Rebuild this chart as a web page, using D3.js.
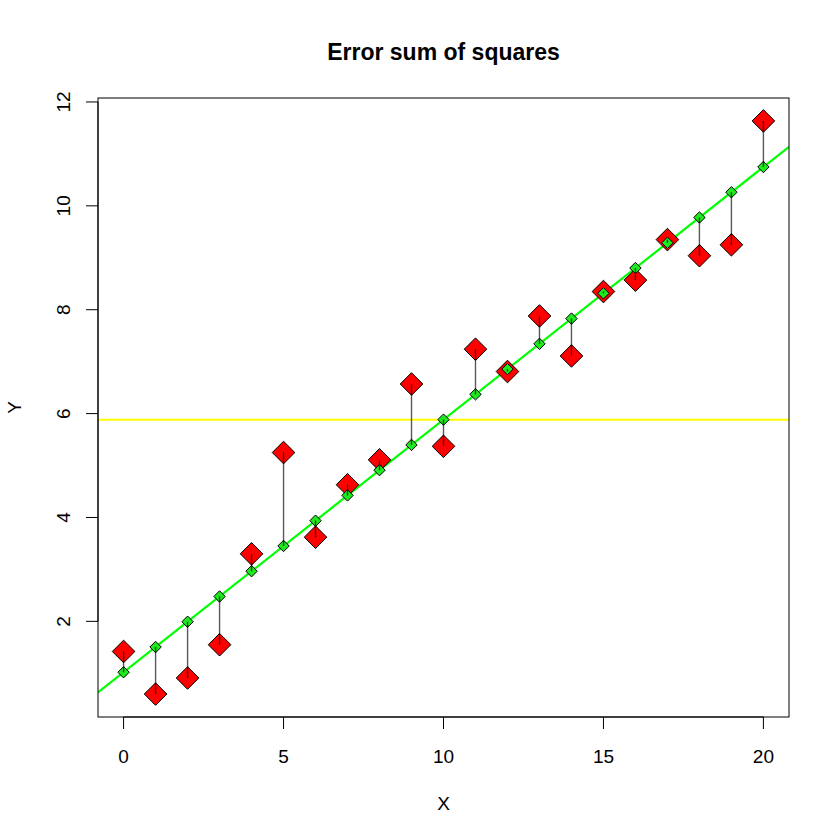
<!DOCTYPE html>
<html><head><meta charset="utf-8">
<script src="https://cdn.jsdelivr.net/npm/d3@7"></script>
<style>body{margin:0;background:#fff}svg{display:block}text{font-family:"Liberation Sans",Arial,sans-serif}</style>
</head><body><svg id="c" width="840" height="840"></svg>
<script>
const xValues = [0,1,2,3,4,5,6,7,8,9,10,11,12,13,14,15,16,17,18,19,20];
const yValues = [1.42,0.60,0.91,1.55,3.30,5.25,3.62,4.63,5.11,6.57,5.37,7.24,6.81,7.88,7.11,8.35,8.57,9.35,9.04,9.25,11.635];
const xTicks = [0,5,10,15,20];
const yTicks = [2,4,6,8,10,12];
const title = "Error sum of squares";

// least squares fit
const mx = d3.mean(xValues), my = d3.mean(yValues);
const slope = d3.sum(xValues, (x,i)=>(x-mx)*(yValues[i]-my)) / d3.sum(xValues, x=>(x-mx)*(x-mx));
const intercept = my - slope*mx;
const fitted = xValues.map(x=>intercept+slope*x);

const L=98, R=789, T=98, B=717;
const svg = d3.select("#c");
const xr = d3.extent(xValues), xp=(xr[1]-xr[0])*0.04;
const yr = d3.extent(yValues), yp=(yr[1]-yr[0])*0.04;
const x = d3.scaleLinear().domain([xr[0]-xp, xr[1]+xp]).range([L,R]);
const y = d3.scaleLinear().domain([yr[0]-yp, yr[1]+yp]).range([B,T]);

svg.append("defs").append("clipPath").attr("id","clip").append("rect")
  .attr("x",L).attr("y",T).attr("width",R-L).attr("height",B-T);
const g = svg.append("g").attr("clip-path","url(#clip)");

// mean line
g.append("line").attr("x1",L).attr("x2",R).attr("y1",y(my)).attr("y2",y(my))
  .attr("stroke","#ffff00").attr("stroke-width",2);
// regression line
const d0 = x.domain();
g.append("line").attr("x1",x(d0[0])).attr("x2",x(d0[1]))
  .attr("y1",y(intercept+slope*d0[0])).attr("y2",y(intercept+slope*d0[1]))
  .attr("stroke","#00ff00").attr("stroke-width",2.2);

const diamond = (cx,cy,r)=>`M${cx},${cy-r}L${cx+r},${cy}L${cx},${cy+r}L${cx-r},${cy}Z`;
// observed
g.selectAll(".obs").data(xValues).enter().append("path")
  .attr("d",(d,i)=>diamond(x(d),y(yValues[i]),11.3))
  .attr("fill","#ff0000").attr("stroke","#000").attr("stroke-width",1);
// fitted
g.selectAll(".fit").data(xValues).enter().append("path")
  .attr("d",(d,i)=>diamond(x(d),y(fitted[i]),5.7))
  .attr("fill","#1ee81e").attr("stroke","#000").attr("stroke-width",1);
// residual segments
g.selectAll(".seg").data(xValues).enter().append("line")
  .attr("x1",d=>x(d)).attr("x2",d=>x(d))
  .attr("y1",(d,i)=>y(yValues[i])).attr("y2",(d,i)=>y(fitted[i]))
  .attr("stroke","#000").attr("stroke-opacity",0.65).attr("stroke-width",1.4);

// box
svg.append("rect").attr("x",L).attr("y",T).attr("width",R-L).attr("height",B-T)
  .attr("fill","none").attr("stroke","#000").attr("stroke-width",1);

// x axis
const xa = svg.append("g").attr("transform",`translate(0,${B})`);
xa.append("line").attr("x1",x(xTicks[0])).attr("x2",x(xTicks[xTicks.length-1])).attr("stroke","#000");
xTicks.forEach(t=>{
  xa.append("line").attr("x1",x(t)).attr("x2",x(t)).attr("y1",0).attr("y2",12).attr("stroke","#000");
  xa.append("text").attr("x",x(t)).attr("y",46).attr("text-anchor","middle").attr("font-size",19).text(t);
});
// y axis
const ya = svg.append("g").attr("transform",`translate(${L},0)`);
ya.append("line").attr("y1",y(yTicks[0])).attr("y2",y(yTicks[yTicks.length-1])).attr("stroke","#000");
yTicks.forEach(t=>{
  ya.append("line").attr("y1",y(t)).attr("y2",y(t)).attr("x1",0).attr("x2",-12).attr("stroke","#000");
  ya.append("text").attr("transform",`translate(-28,${y(t)}) rotate(-90)`).attr("text-anchor","middle").attr("font-size",19).text(t);
});
// labels
svg.append("text").attr("x",(L+R)/2).attr("y",810).attr("text-anchor","middle").attr("font-size",19).text("X");
svg.append("text").attr("transform",`translate(21,${(T+B)/2}) rotate(-90)`).attr("text-anchor","middle").attr("font-size",19).text("Y");
svg.append("text").attr("x",(L+R)/2).attr("y",60).attr("text-anchor","middle").attr("font-size",23).attr("font-weight","bold").text(title);
</script></body></html>
